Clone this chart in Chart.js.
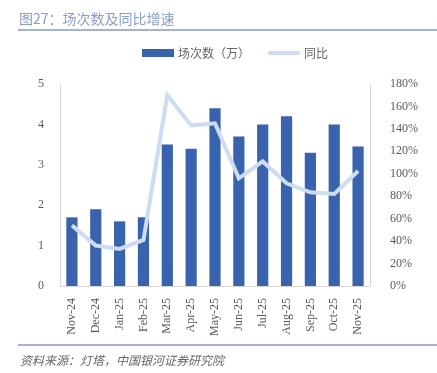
<!DOCTYPE html>
<html>
<head>
<meta charset="utf-8">
<script src="https://cdn.jsdelivr.net/npm/chart.js@4"></script>
<style>
  body { margin:0; background:#fff; }
  #wrap { position:relative; width:437px; height:373px; overflow:hidden; }
  #title { position:absolute; left:19px; top:8px; font:14px "Noto Sans CJK SC"; color:#8a9dcb; }
  #topLine { position:absolute; left:18px; right:0; top:29px; height:2px; background:#a3b3d6; }
  #legend { position:absolute; top:44px; left:142px; font:12px "Noto Sans CJK SC"; color:#666; display:flex; align-items:center; }
  .sw { display:inline-block; width:32px; margin-right:4px; }
  #botLine { position:absolute; left:18px; right:0; top:344px; height:2px; background:#a3b3d6; }
  #source { position:absolute; left:20px; top:351px; font:italic 12px "Noto Sans CJK SC"; color:#666; }
  canvas { position:absolute; left:0; top:0; }
</style>
</head>
<body>
<div id="wrap">
  <canvas id="c" width="437" height="373"></canvas>
  <div id="title">图27：场次数及同比增速</div>
  <div id="topLine"></div>
  <div id="legend">
    <span class="sw" style="height:8px;background:#3a63ae"></span><span style="margin-right:18px">场次数（万）</span>
    <span class="sw" style="height:4px;background:#cddcf1;border-radius:2px"></span><span>同比</span>
  </div>
  <div id="botLine"></div>
  <div id="source">资料来源：灯塔，中国银河证券研究院</div>
</div>
<script>
// Months
const months = ["Nov-24","Dec-24","Jan-25","Feb-25","Mar-25","Apr-25","May-25","Jun-25","Jul-25","Aug-25","Sep-25","Oct-25","Nov-25"];
// 场次数（万）
const sessions = [1.7, 1.9, 1.6, 1.7, 3.5, 3.4, 4.4, 3.7, 4.0, 4.2, 3.3, 4.0, 3.45];
// 同比 (%)
const yoy = [54, 36, 33, 41, 170, 143, 145, 96, 111, 91.5, 83.5, 82, 102.5];

const tickFont = { family: "Liberation Serif", size: 12 };

new Chart(document.getElementById("c"), {
  type: "bar",
  data: {
    labels: months,
    datasets: [
      {
        type: "line",
        label: "同比",
        data: yoy,
        yAxisID: "y1",
        borderColor: "#cddcf1",
        borderWidth: 4,
        pointRadius: 0,
        tension: 0,
        order: 0
      },
      {
        label: "场次数（万）",
        data: sessions,
        yAxisID: "y",
        backgroundColor: "#3a63ae",
        barPercentage: 0.47,
        categoryPercentage: 1,
        order: 1
      }
    ]
  },
  options: {
    responsive: false,
    animation: false,
    layout: { padding: { top: 84, left: 0, right: 0, bottom: 0 } },
    plugins: { legend: { display: false }, tooltip: { enabled: false } },
    scales: {
      x: {
        grid: { display: false },
        border: { color: "#d9d9d9" },
        ticks: { color: "#595959", font: tickFont, minRotation: 90, maxRotation: 90, autoSkip: false, padding: 4 },
        afterFit: s => { s.height = 87; }
      },
      y: {
        position: "left",
        min: 0, max: 5,
        grid: { display: false },
        border: { color: "#d9d9d9" },
        ticks: { stepSize: 1, color: "#595959", font: tickFont, padding: 8 },
        afterFit: s => { s.width = 60; }
      },
      y1: {
        position: "right",
        min: 0, max: 180,
        grid: { display: false },
        border: { color: "#d9d9d9" },
        ticks: { stepSize: 20, color: "#595959", font: tickFont, padding: 12, callback: v => v + "%" },
        afterFit: s => { s.width = 67; }
      }
    }
  }
});
</script>
</body>
</html>
